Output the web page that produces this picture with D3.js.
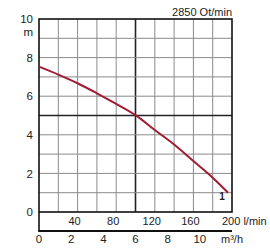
<!DOCTYPE html>
<html>
<head>
<meta charset="utf-8">
<script src="https://cdn.jsdelivr.net/npm/d3@7"></script>
<style>
  body { margin: 0; background: #fff; }
  text { font-family: Arial, "Liberation Sans", sans-serif; fill: #222; }
</style>
</head>
<body>
<div id="chart"></div>
<script>
// pump curve
var flowLmin = [0, 20, 40, 60, 80, 100, 120, 140, 160, 180, 196];
var headM = [7.53, 7.12, 6.67, 6.15, 5.6, 5.02, 4.25, 3.5, 2.64, 1.78, 1.0];

var yTicks = [0, 2, 4, 6, 8, 10];
var lminTicks = [40, 80, 120, 160];
var m3hTicks = [0, 2, 4, 6, 8, 10];
var speedLabel = "2850 Ot/min";
var curveName = "1";

var width = 270, height = 250;
var pLeft = 39, pRight = 232, pTop = 19, pBottom = 212, axisBottom = 231;

var svg = d3.select("#chart").append("svg")
    .attr("width", width)
    .attr("height", height);

var x = d3.scaleLinear().domain([0, 200]).range([pLeft, pRight]);
var xm = d3.scaleLinear().domain([0, 12]).range([pLeft, pRight]);
var y = d3.scaleLinear().domain([0, 10]).range([pBottom, pTop]);

// grid
var g = svg.append("g");
g.selectAll(".vg")
    .data(d3.range(20, 200, 20))
    .enter().append("line")
    .attr("x1", function(d) { return x(d); })
    .attr("x2", function(d) { return x(d); })
    .attr("y1", pTop).attr("y2", pBottom)
    .attr("stroke", function(d) { return d == 100 ? "#222" : "#8a8a8a"; })
    .attr("stroke-width", function(d) { return d == 100 ? 1.6 : 1; });

g.selectAll(".hg")
    .data(d3.range(1, 10))
    .enter().append("line")
    .attr("x1", pLeft).attr("x2", pRight)
    .attr("y1", function(d) { return y(d); })
    .attr("y2", function(d) { return y(d); })
    .attr("stroke", function(d) { return d == 5 ? "#222" : "#8a8a8a"; })
    .attr("stroke-width", function(d) { return d == 5 ? 1.6 : 1; });

// frame
svg.append("rect")
    .attr("x", pLeft).attr("y", pTop)
    .attr("width", pRight - pLeft).attr("height", pBottom - pTop)
    .attr("fill", "none").attr("stroke", "#111").attr("stroke-width", 1.6);

svg.append("line")
    .attr("x1", pLeft).attr("x2", pLeft)
    .attr("y1", pBottom).attr("y2", axisBottom)
    .attr("stroke", "#111").attr("stroke-width", 1.6);
svg.append("line")
    .attr("x1", pLeft - 0.8).attr("x2", pRight)
    .attr("y1", axisBottom).attr("y2", axisBottom)
    .attr("stroke", "#111").attr("stroke-width", 2);

// y labels
svg.selectAll(".yl")
    .data(yTicks)
    .enter().append("text")
    .attr("x", 33)
    .attr("y", function(d) { return y(d); })
    .attr("dy", "0.36em")
    .attr("text-anchor", "end")
    .attr("font-size", 11.5)
    .text(function(d) { return d; });
svg.append("text")
    .attr("x", 33).attr("y", y(10) + 13)
    .attr("dy", "0.36em")
    .attr("text-anchor", "end")
    .attr("font-size", 11.5)
    .text("m");

// l/min labels
svg.selectAll(".xl")
    .data(lminTicks)
    .enter().append("text")
    .attr("x", function(d) { return x(d) - 3; })
    .attr("y", 221)
    .attr("dy", "0.36em")
    .attr("text-anchor", "middle")
    .attr("font-size", 11)
    .text(function(d) { return d; });
svg.append("text")
    .attr("x", x(200) - 10).attr("y", 221)
    .attr("dy", "0.36em")
    .attr("font-size", 11)
    .text("200 l/min");

// m3/h labels
svg.selectAll(".ml")
    .data(m3hTicks)
    .enter().append("text")
    .attr("x", function(d) { return xm(d); })
    .attr("y", 239)
    .attr("dy", "0.36em")
    .attr("text-anchor", "middle")
    .attr("font-size", 11.5)
    .text(function(d) { return d; });
svg.append("text")
    .attr("x", xm(12)).attr("y", 239)
    .attr("dy", "0.36em")
    .attr("text-anchor", "middle")
    .attr("font-size", 11)
    .text("m\u00b3/h");

svg.append("text")
    .attr("x", pRight).attr("y", 12)
    .attr("dy", "0.36em")
    .attr("text-anchor", "end")
    .attr("font-size", 11)
    .text(speedLabel);

// curve
var line = d3.line()
    .x(function(d, i) { return x(flowLmin[i]); })
    .y(function(d) { return y(d); })
    .curve(d3.curveMonotoneX);

svg.append("path")
    .datum(headM)
    .attr("d", line)
    .attr("fill", "none")
    .attr("stroke", "#a01c32")
    .attr("stroke-width", 2);

svg.append("text")
    .attr("x", x(flowLmin[flowLmin.length - 1]) - 6)
    .attr("y", y(headM[headM.length - 1]) + 4)
    .attr("dy", "0.36em")
    .attr("text-anchor", "middle")
    .attr("font-size", 10)
    .attr("font-weight", "bold")
    .text(curveName);
</script>
</body>
</html>
